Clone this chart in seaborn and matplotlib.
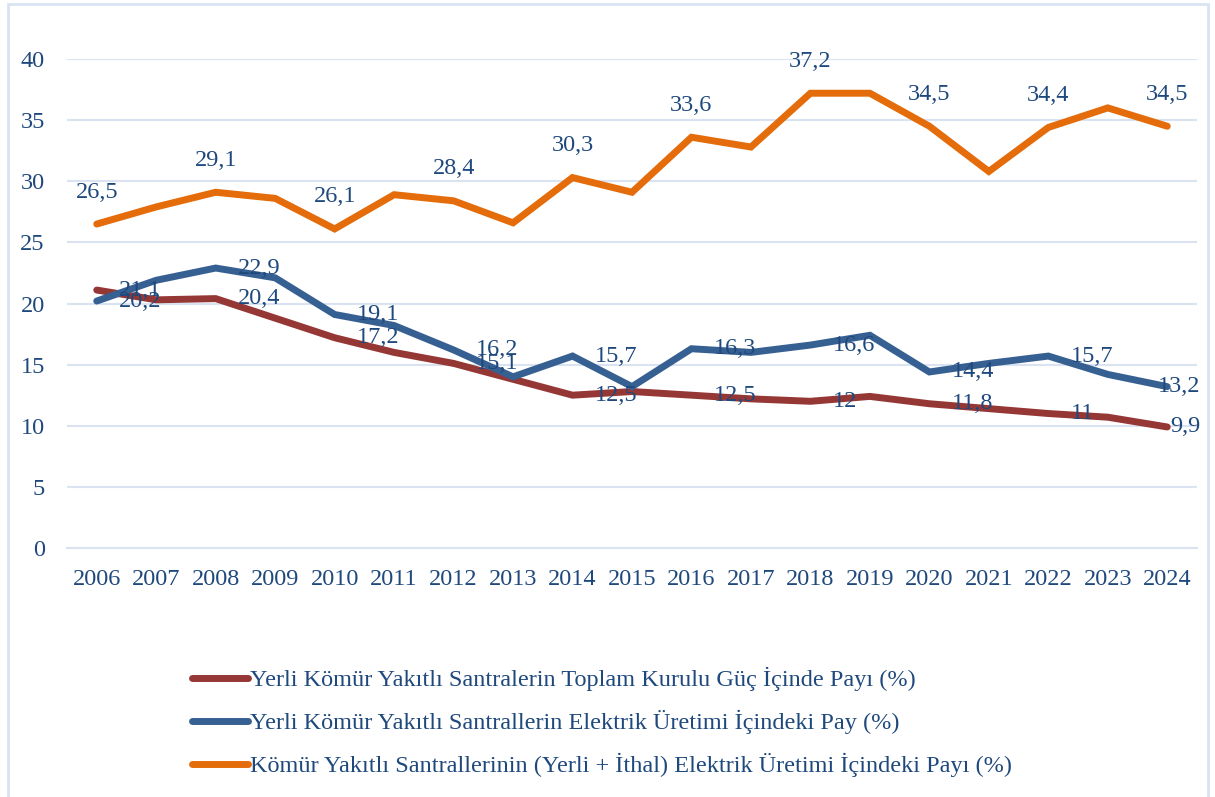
import numpy as np
import pandas as pd
import matplotlib
matplotlib.use("Agg")
import matplotlib.pyplot as plt
import seaborn as sns
from matplotlib.patches import Rectangle
from matplotlib.lines import Line2D

YEARS = [str(y) for y in range(2006, 2025)]

# Yerli kömür santrallerinin toplam kurulu güç içindeki payı
KURULU_GUC = [21.1, 20.3, 20.4, 18.8, 17.2, 16.0, 15.1, 13.8, 12.5, 12.8,
              12.5, 12.2, 12.0, 12.4, 11.8, 11.4, 11.0, 10.7, 9.9]
# Yerli kömür santrallerinin elektrik üretimi içindeki payı
YERLI_URETIM = [20.2, 21.9, 22.9, 22.1, 19.1, 18.2, 16.2, 14.0, 15.7, 13.2,
                16.3, 16.0, 16.6, 17.4, 14.4, 15.1, 15.7, 14.2, 13.2]
# Yerli + ithal kömür santrallerinin elektrik üretimi içindeki payı
TOPLAM_URETIM = [26.5, 27.9, 29.1, 28.6, 26.1, 28.9, 28.4, 26.6, 30.3, 29.1,
                 33.6, 32.8, 37.2, 37.2, 34.5, 30.8, 34.4, 36.0, 34.5]

LABELS = [
    "Yerli Kömür Yakıtlı Santralerin Toplam Kurulu Güç İçinde Payı (%)",
    "Yerli Kömür Yakıtlı Santrallerin Elektrik Üretimi İçindeki Pay (%)",
    "Kömür Yakıtlı Santrallerinin (Yerli + İthal) Elektrik Üretimi İçindeki Payı (%)",
]
COLORS = ["#953735", "#376092", "#E46C0A"]
TEXT_C = "#1F497D"
GRID_C = "#D9E3F2"

sns.set_style("white")
plt.rcParams["font.family"] = ["Liberation Serif", "DejaVu Serif"]
plt.rcParams["font.size"] = 17.5

df = pd.DataFrame({
    "year": YEARS * 3,
    "value": KURULU_GUC + YERLI_URETIM + TOPLAM_URETIM,
    "series": [LABELS[0]] * 19 + [LABELS[1]] * 19 + [LABELS[2]] * 19,
})
df["x"] = df["year"].astype(int) - 2006

fig = plt.figure(figsize=(12.15, 7.97), dpi=100)
ax = fig.add_axes([67 / 1215, 249 / 797, 1130 / 1215, 489 / 797])

sns.lineplot(data=df, x="x", y="value", hue="series", hue_order=LABELS,
             palette=COLORS, linewidth=5, legend=False, ax=ax,
             solid_capstyle="round", solid_joinstyle="miter")

ax.set_xlim(-0.5, 18.5)
ax.set_ylim(0, 40)
ax.set_yticks(range(0, 41, 5))
ax.yaxis.grid(True, color=GRID_C, linewidth=1.5)
ax.set_axisbelow(True)
for s in ["top", "right", "left"]:
    ax.spines[s].set_visible(False)
ax.spines["bottom"].set_color(GRID_C)
ax.spines["bottom"].set_linewidth(1.5)

ax.set_xticks(range(19))
ax.set_xticklabels(YEARS)
ax.set_xticks(np.arange(-0.5, 19, 1), minor=True)
ax.tick_params(axis="x", which="major", length=0, pad=15, labelcolor=TEXT_C)
ax.tick_params(axis="x", which="minor", length=7, width=1.5, color=GRID_C,
               direction="out")
ax.tick_params(axis="y", length=0, pad=16, labelcolor=TEXT_C)
ax.set_xlabel("")
ax.set_ylabel("")


def fmt(v):
    return f"{v:g}".replace(".", ",")


# veri etiketleri (çift yıllar)
for i in range(0, 19, 2):
    ax.annotate(fmt(TOPLAM_URETIM[i]), (i, TOPLAM_URETIM[i]),
                xytext=(0, 23), textcoords="offset points", ha="center",
                va="center", color=TEXT_C, annotation_clip=False)
    last = i == 18
    for vals in (YERLI_URETIM, KURULU_GUC):
        ax.annotate(fmt(vals[i]), (i, vals[i]),
                    xytext=(24, 0) if last else (16, 0),
                    textcoords="offset points",
                    ha="right" if last else "left",
                    va="center", color=TEXT_C, annotation_clip=False)

handles = [Line2D([], [], color=c, linewidth=5, solid_capstyle="round") for c in COLORS]
leg = fig.legend(handles, LABELS, loc="upper left",
                 bbox_to_anchor=(170 / 1215, 1 - 645 / 797), frameon=False,
                 handlelength=2.3, handletextpad=0.1, labelspacing=0.78)
for t in leg.get_texts():
    t.set_color(TEXT_C)

fig.patches.append(Rectangle((8 / 1215, -0.1), 1200 / 1215, 1.1 - 4 / 797,
                             transform=fig.transFigure, fill=False,
                             edgecolor=GRID_C, linewidth=2))

fig.savefig("out.png", dpi=100)
